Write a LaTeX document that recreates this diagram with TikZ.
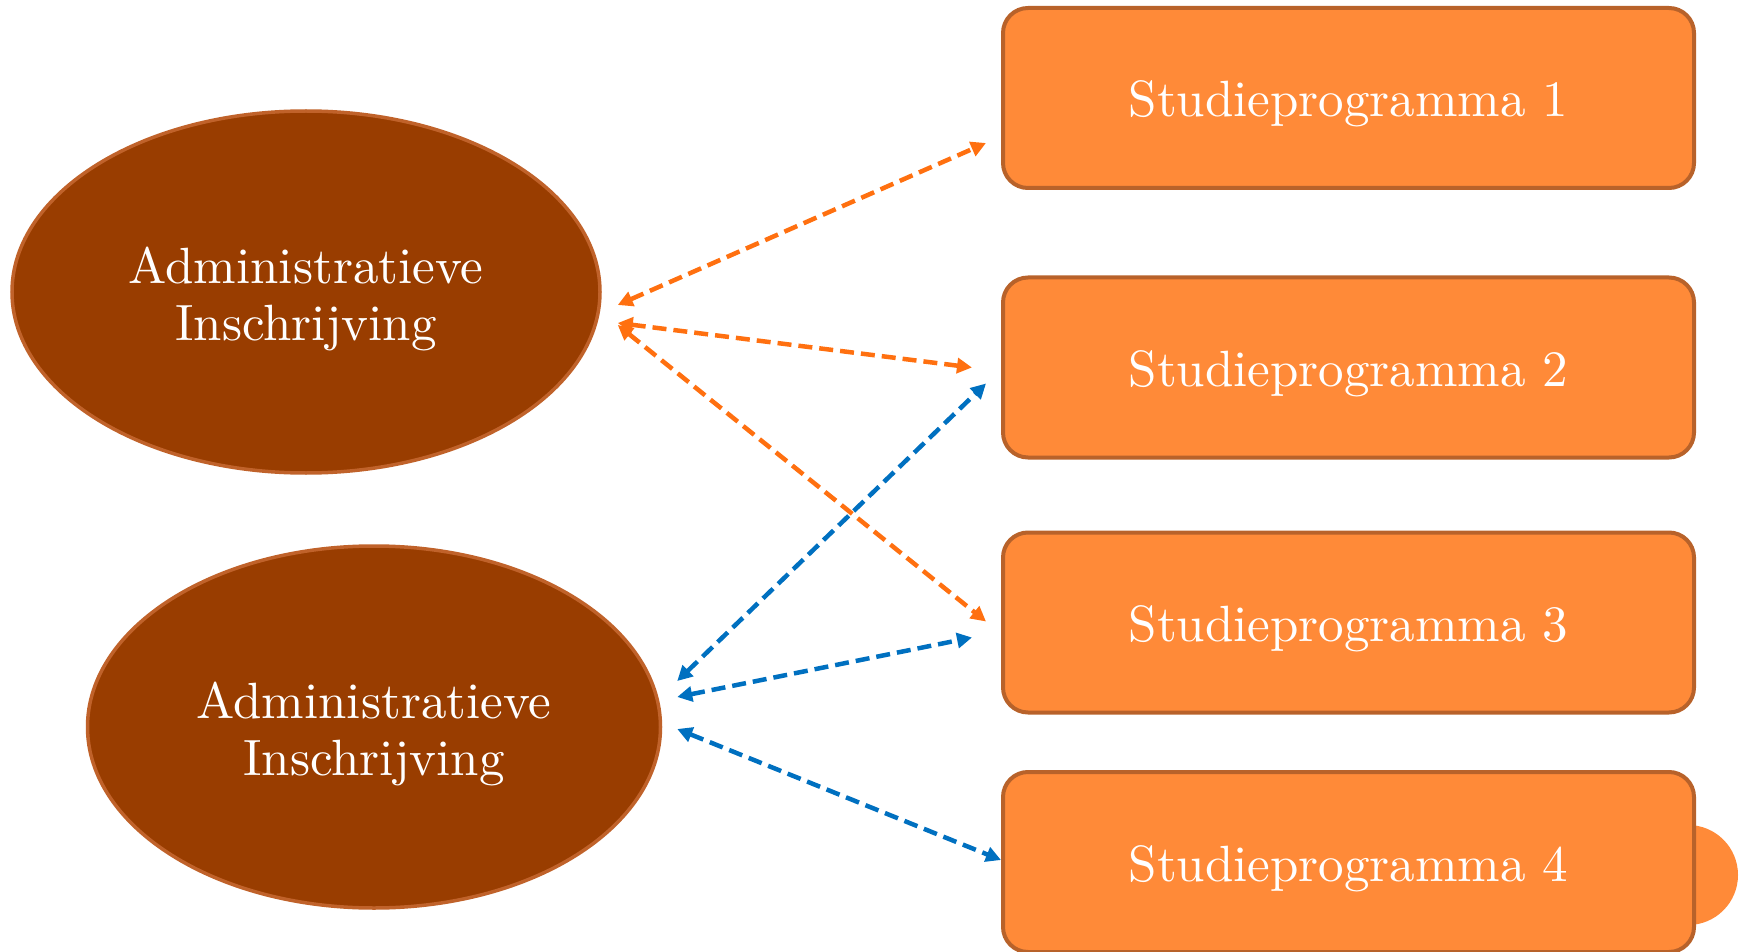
\documentclass[tikz,border=0pt]{standalone}
\usepackage{graphicx}
\usetikzlibrary{shapes.geometric,arrows.meta}
\definecolor{ellfill}{HTML}{993D00}
\definecolor{elldraw}{HTML}{C0622A}
\definecolor{boxfill}{HTML}{FF8A38}
\definecolor{boxdraw}{HTML}{B8622A}
\definecolor{arrorange}{HTML}{FF7010}
\definecolor{arrblue}{HTML}{0070C0}
\newcommand{\boxtext}[1]{\raisebox{-19pt}[0pt][0pt]{\scalebox{5.1}{\fontsize{10}{12}\selectfont #1}}}
\newcommand{\elltext}[2]{\raisebox{9pt}[0pt][0pt]{\scalebox{5.1}{\fontsize{10}{11.18}\selectfont\begin{tabular}[t]{@{}c@{}}#1\\#2\end{tabular}}}}
\tikzset{
  ellnode/.style={ellipse, fill=ellfill, draw=elldraw, line width=3.5pt, inner sep=0pt,
    text=white},
  progbox/.style={rectangle, rounded corners=25pt, fill=boxfill, draw=boxdraw, line width=4pt,
    minimum width=691pt, minimum height=180pt, inner sep=0pt, text=white},
  link/.style={line width=4.5pt, dash pattern=on 14pt off 7pt,
    {Triangle[length=15pt,width=15pt]}-{Triangle[length=15pt,width=15pt]}},
  orangelink/.style={link, draw=arrorange, arrorange},
  bluelink/.style={link, draw=arrblue, arrblue},
}
\begin{document}
\begin{tikzpicture}[x=1pt,y=-1pt]
\useasboundingbox (0,0) rectangle (1741,952);
% circle behind box 4
\fill[boxfill] (1688,875) circle (50);
\node[ellnode, minimum width=588pt, minimum height=362pt] (e1) at (306,292) {\elltext{Administratieve}{Inschrijving}};
\node[ellnode, minimum width=573pt, minimum height=362pt] (e2) at (374,727) {\elltext{Administratieve}{Inschrijving}};
\node[progbox] (b1) at (1348.5,98) {\boxtext{Studieprogramma 1}};
\node[progbox] (b2) at (1348.5,367.5) {\boxtext{Studieprogramma 2}};
\node[progbox] (b3) at (1348.5,622.5) {\boxtext{Studieprogramma 3}};
\node[progbox] (b4) at (1348.5,862) {\boxtext{Studieprogramma 4}};
% orange connectors
\draw[orangelink] ([shift={(16,13)}]e1.east) -- ([shift={(-15,45)}]b1.west);
\draw[orangelink] ([shift={(16,31)}]e1.east) -- ([shift={(-29,0)}]b2.west);
\draw[orangelink] ([shift={(16,33)}]e1.east) -- ([shift={(-15,-1)}]b3.west);
% blue connectors
\draw[bluelink] ([shift={(15,-46)}]e2.east) -- ([shift={(-15,16)}]b2.west);
\draw[bluelink] ([shift={(15,-30)}]e2.east) -- ([shift={(-29,15)}]b3.west);
\draw[bluelink] ([shift={(15,2)}]e2.east) -- ([shift={(0,-2)}]b4.west);
\end{tikzpicture}
\end{document}
